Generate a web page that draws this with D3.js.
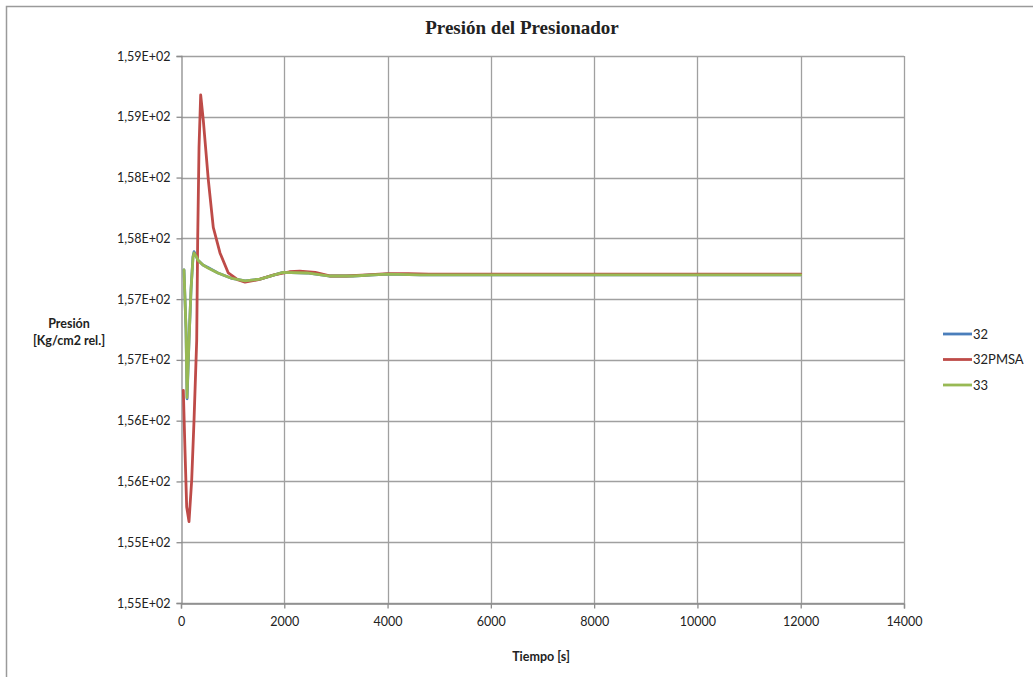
<!DOCTYPE html>
<html>
<head>
<meta charset="utf-8">
<script src="https://cdn.jsdelivr.net/npm/d3@7"></script>
<style>
  html, body { margin: 0; padding: 0; background: #fff; }
  svg { display: block; }
  text { font-family: Lato, "Open Sans", sans-serif; fill: #222; }
</style>
</head>
<body>
<svg id="chart" width="1033" height="677"></svg>
<script>
// Pressurizer pressure transient, three runs
const seriesNames = ["32", "32PMSA", "33"];
const seriesColors = ["#4A7EBB", "#BE4B48", "#98B954"];

const time32 = [58, 97, 118, 155, 194, 232, 252, 290, 329, 426, 523, 716, 988, 1239, 1530, 1975, 2440, 2885, 3331, 3989, 4628, 5500, 7000, 9000, 12000];
const pres32 = [157.54, 157.05, 156.48, 156.96, 157.38, 157.65, 157.69, 157.66, 157.62, 157.58, 157.56, 157.515, 157.47, 157.45, 157.465, 157.52, 157.515, 157.49, 157.49, 157.505, 157.5, 157.5, 157.5, 157.5, 157.5];

const time32PMSA = [45, 77, 110, 155, 207, 252, 304, 323, 349, 381, 432, 529, 625, 755, 916, 1110, 1239, 1500, 1800, 2100, 2300, 2600, 2900, 3200, 3600, 4000, 4400, 4800, 5500, 7000, 9000, 12000];
const pres32PMSA = [156.55, 156.06, 155.59, 155.47, 155.81, 156.30, 156.96, 157.79, 158.55, 158.98, 158.77, 158.28, 157.89, 157.68, 157.515, 157.457, 157.44, 157.46, 157.50, 157.525, 157.53, 157.52, 157.49, 157.49, 157.50, 157.51, 157.51, 157.505, 157.506, 157.506, 157.506, 157.506];

const time33 = [58, 97, 116, 155, 194, 232, 252, 290, 329, 426, 523, 716, 988, 1239, 1530, 1975, 2440, 2885, 3331, 3989, 4628, 5500, 7000, 9000, 12000];
const pres33 = [157.54, 157.05, 156.49, 156.96, 157.375, 157.64, 157.68, 157.655, 157.62, 157.58, 157.556, 157.515, 157.47, 157.45, 157.465, 157.52, 157.515, 157.49, 157.49, 157.505, 157.5, 157.5, 157.5, 157.5, 157.5];

const xTicks = [0, 2000, 4000, 6000, 8000, 10000, 12000, 14000];
const yTickValues = [154.8, 155.3, 155.8, 156.3, 156.8, 157.3, 157.8, 158.3, 158.8, 159.3];
const yTickLabels = ["1,55E+02", "1,55E+02", "1,56E+02", "1,56E+02", "1,57E+02", "1,57E+02", "1,58E+02", "1,58E+02", "1,59E+02", "1,59E+02"];

const svg = d3.select("#chart");
const W = 1033, H = 677;
const plot = { left: 181, top: 56, width: 723, height: 547 };

// outer chart frame
svg.append("rect")
  .attr("x", 6.5).attr("y", 6.5)
  .attr("width", W + 20).attr("height", H + 20)
  .attr("fill", "none").attr("stroke", "#9a9a9a").attr("stroke-width", 1.5);

const x = d3.scaleLinear().domain([0, 14000]).range([plot.left, plot.left + plot.width]);
const y = d3.scaleLinear().domain([154.8, 159.3]).range([plot.top + plot.height, plot.top]);

const g = svg.append("g");

// gridlines
g.selectAll("line.hgrid").data(yTickValues).join("line")
  .attr("class", "hgrid")
  .attr("x1", plot.left).attr("x2", plot.left + plot.width)
  .attr("y1", d => Math.round(y(d)) + 0.5).attr("y2", d => Math.round(y(d)) + 0.5)
  .attr("stroke", "#a0a0a0").attr("stroke-width", 1.3);
g.selectAll("line.vgrid").data(xTicks.slice(1)).join("line")
  .attr("class", "vgrid")
  .attr("x1", d => Math.round(x(d)) + 0.5).attr("x2", d => Math.round(x(d)) + 0.5)
  .attr("y1", plot.top).attr("y2", plot.top + plot.height)
  .attr("stroke", "#a0a0a0").attr("stroke-width", 1.3);

// axes
const yAxis = d3.axisLeft(y)
  .tickValues(yTickValues)
  .tickFormat((d, i) => yTickLabels[i])
  .tickSize(5).tickPadding(6);
const yg = svg.append("g").attr("transform", `translate(${plot.left + 0.5},0)`).call(yAxis);

const xAxis = d3.axisBottom(x)
  .tickValues(xTicks)
  .tickFormat(d3.format("d"))
  .tickSize(5).tickPadding(9);
const xg = svg.append("g").attr("transform", `translate(0,${plot.top + plot.height + 0.5})`).call(xAxis);

[yg, xg].forEach(a => {
  a.select(".domain").attr("stroke", "#8c8c8c").attr("stroke-width", 1.3);
  a.selectAll(".tick line").attr("stroke", "#8c8c8c").attr("stroke-width", 1.3);
  a.selectAll(".tick text")
    .attr("font-family", "Lato, 'Open Sans', sans-serif")
    .attr("font-size", 12.5).attr("fill", "#222");
});

// series lines
const line = d3.line()
  .x(d => x(d[0]))
  .y(d => y(d[1]));

const seriesData = [
  d3.zip(time32, pres32),
  d3.zip(time32PMSA, pres32PMSA),
  d3.zip(time33, pres33)
];

seriesData.forEach((pts, i) => {
  svg.append("path")
    .datum(pts)
    .attr("d", line)
    .attr("fill", "none")
    .attr("stroke", seriesColors[i])
    .attr("stroke-width", 2.8)
    .attr("stroke-linejoin", "round")
    .attr("stroke-linecap", "round");
});

// title
svg.append("text")
  .attr("x", 522).attr("y", 34)
  .attr("text-anchor", "middle")
  .style("font-family", "'Liberation Serif', 'DejaVu Serif', serif")
  .style("font-weight", "bold")
  .style("font-size", "19px")
  .text("Presión del Presionador");

// axis titles
const yTitle = svg.append("text")
  .attr("text-anchor", "middle")
  .style("font-weight", "bold").style("font-size", "12.5px");
yTitle.append("tspan").attr("x", 69).attr("y", 328).text("Presión");
yTitle.append("tspan").attr("x", 69).attr("y", 345).text("[Kg/cm2 rel.]");

svg.append("text")
  .attr("x", 541).attr("y", 661)
  .attr("text-anchor", "middle")
  .style("font-weight", "bold").style("font-size", "12.5px")
  .text("Tiempo [s]");

// legend
const legend = svg.append("g").attr("transform", "translate(943,334)");
seriesNames.forEach((name, i) => {
  const row = legend.append("g").attr("transform", `translate(0,${i * 25.5})`);
  row.append("line")
    .attr("x1", 0).attr("x2", 29).attr("y1", 0).attr("y2", 0)
    .attr("stroke", seriesColors[i]).attr("stroke-width", 2.8);
  row.append("text")
    .attr("x", 30).attr("y", 0).attr("dy", "0.35em")
    .style("font-size", "13px")
    .text(name);
});
</script>
</body>
</html>
